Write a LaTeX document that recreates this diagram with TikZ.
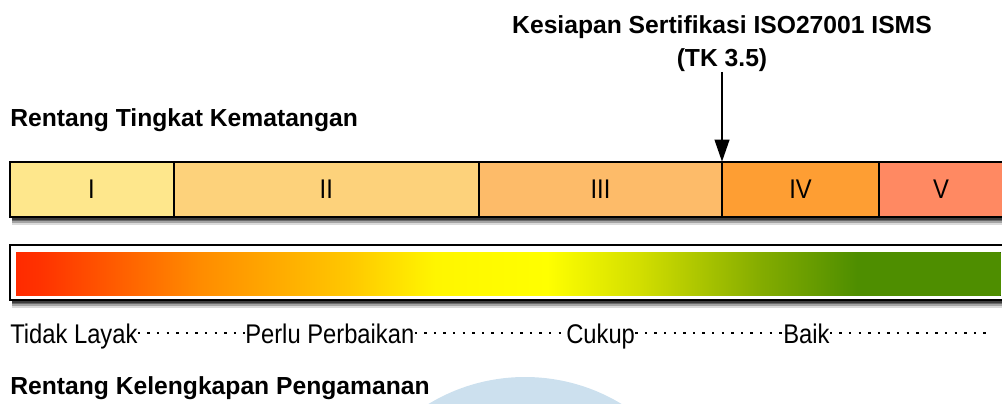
\documentclass[tikz,border=0pt]{standalone}
\usepackage{fontspec}
\setmainfont{Liberation Sans}
\usetikzlibrary{arrows.meta}
\definecolor{cI}{HTML}{FEE78C}
\definecolor{cII}{HTML}{FDD27B}
\definecolor{cIII}{HTML}{FDBB69}
\definecolor{cIV}{HTML}{FE9E33}
\definecolor{cV}{HTML}{FF8962}
\definecolor{wmark}{HTML}{CCE0EE}
\definecolor{gA}{HTML}{FF2A00}
\definecolor{gB}{HTML}{FF3200}
\definecolor{gC}{HTML}{FF8C00}
\definecolor{gD}{HTML}{FFC800}
\definecolor{gE}{HTML}{FFF600}
\definecolor{gF}{HTML}{FFFF00}
\definecolor{gG}{HTML}{D2DE00}
\definecolor{gH}{HTML}{84AC00}
\definecolor{gJ}{HTML}{4E8E00}
\definecolor{shA}{HTML}{3C3C3C}
\definecolor{shB}{HTML}{6A6A6A}
\definecolor{shC}{HTML}{A4A4A4}
\definecolor{shD}{HTML}{DADADA}
\tikzset{
  seg/.style={draw=black, line width=1.5pt, inner sep=0pt, outer sep=0pt,
    minimum height=55*0.75pt, font=\fontsize{20.25}{24}\selectfont},
  title/.style={anchor=base west, inner sep=0pt, font=\bfseries\fontsize{18.5}{22}\selectfont},
  lbl/.style={anchor=base west, inner sep=0pt, font=\fontsize{20.25}{24}\selectfont},
  dotline/.style={line width=1.8pt, dash pattern=on 1.8pt off 5.4pt},
  pointer/.style={line width=1.5pt, -{Triangle[length=16.5pt,width=11pt]}},
}
\newcommand{\nar}[1]{\scalebox{0.88}[1]{#1}}
\begin{document}
\begin{tikzpicture}[x=0.75pt, y=-0.75pt]
\useasboundingbox (0,0) rectangle (1002,403);
\clip (0,0) rectangle (1002,403);
% watermark
\fill[wmark] (525,563) circle (186);
% titles
\node[title] (t1) at (10,126) {Rentang Tingkat Kematangan};
\node[title] (t2) at (10,394) {Rentang Kelengkapan Pengamanan};
% shadows (graded bands under each box)
\foreach \yb in {217,300} {
  \fill[shD] (12,\yb) rectangle (1006,\yb+8);
  \fill[shC] (12,\yb) rectangle (1006,\yb+6);
  \fill[shB] (12,\yb) rectangle (1006,\yb+4);
  \fill[shA] (12,\yb) rectangle (1006,\yb+2.5);
}
% maturity bar
\node[seg, fill=cI,   minimum width=164*0.75pt]   (s1) at (91.5,189.2)  {\nar{I}};
\node[seg, fill=cII,  minimum width=305.5*0.75pt] (s2) at (326.25,189.2) {\nar{II}};
\node[seg, fill=cIII, minimum width=243*0.75pt]   (s3) at (600.5,189.2) {\nar{III}};
\node[seg, fill=cIV,  minimum width=157*0.75pt]   (s4) at (800.5,189.2) {\nar{IV}};
\node[seg, fill=cV,   minimum width=124*0.75pt]   (s5) at (941,189.2)   {\nar{V}};
% pointer
\node[inner sep=0pt, anchor=south, align=center,
  font=\bfseries\fontsize{18.5}{25}\selectfont] (ksp) at (722,72)
  {Kesiapan Sertifikasi ISO27001 ISMS\\(TK 3.5)};
\draw[pointer] (ksp.south) -- (s3.north east);
% gradient bar
\fill[white] (9.5,245) rectangle (1004,300);
\fill[left color=gA, right color=gB] (16,252) rectangle (40.5,295.5);
\fill[left color=gB, right color=gC] (40,252) rectangle (200.5,295.5);
\fill[left color=gC, right color=gD] (200,252) rectangle (350.5,295.5);
\fill[left color=gD, right color=gE] (350,252) rectangle (435.5,295.5);
\fill[left color=gE, right color=gF] (435,252) rectangle (547.5,295.5);
\fill[left color=gF, right color=gG] (547,252) rectangle (640.5,295.5);
\fill[left color=gG, right color=gH] (640,252) rectangle (760.5,295.5);
\fill[left color=gH, right color=gJ] (760,252) rectangle (857.5,295.5);
\fill[left color=gJ, right color=gJ] (857,252) rectangle (1000.5,295.5);
\draw[line width=1.5pt] (9.5,245) rectangle (1004,300);
% scale labels
\node[lbl] (l1) at (10,343)  {\nar{Tidak Layak}};
\node[lbl] (l2) at (245,343) {\nar{Perlu Perbaikan}};
\node[lbl] (l3) at (566,343) {\nar{Cukup}};
\node[lbl] (l4) at (783,343) {\nar{Baik}};
\coordinate (dend) at (990,333);
\draw[dotline] ([yshift=7.5pt]l1.base east) -- ([yshift=7.5pt]l2.base west);
\draw[dotline] ([yshift=7.5pt]l2.base east) -- ([yshift=7.5pt]l3.base west);
\draw[dotline] ([yshift=7.5pt]l3.base east) -- ([yshift=7.5pt]l4.base west);
\draw[dotline] ([yshift=7.5pt]l4.base east) -- (dend);
\end{tikzpicture}
\end{document}
